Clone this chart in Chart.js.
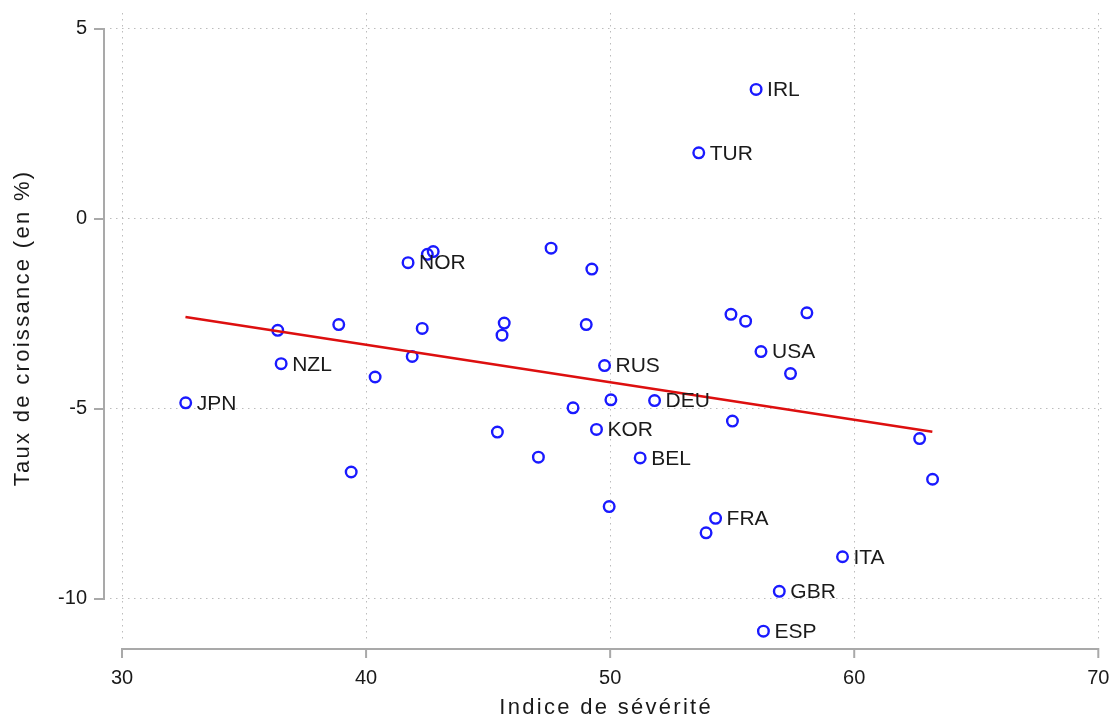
<!DOCTYPE html>
<html>
<head>
<meta charset="utf-8">
<script src="https://cdn.jsdelivr.net/npm/chart.js@4.4.1/dist/chart.umd.min.js"></script>
<style>
html,body{margin:0;padding:0;background:#ffffff;overflow:hidden;}
#wrap{width:1110px;height:722px;}
#c{display:block;}
</style>
</head>
<body>
<div id="wrap"><canvas id="c" width="1110" height="722"></canvas></div>
<script>
// ---- data ----
const countries = ['JPN','NZL','','','','','NOR','','','','','','','','','','','','','KOR','RUS','','','BEL','DEU','TUR','','FRA','','','','IRL','USA','ESP','GBR','','','ITA','',''];
const severity  = [32.61,36.52,36.38,38.88,39.39,40.37,41.72,41.89,42.30,42.51,42.75,45.38,45.57,45.66,47.06,47.58,48.48,49.02,49.25,49.44,49.77,49.96,50.03,51.23,51.82,53.63,53.93,54.32,54.95,55.01,55.55,55.98,56.18,56.28,56.93,57.39,58.06,59.52,62.68,63.21];
const growth    = [-4.84,-3.81,-2.93,-2.78,-6.66,-4.16,-1.15,-3.62,-2.88,-0.93,-0.86,-5.61,-3.06,-2.74,-6.27,-0.77,-4.97,-2.78,-1.32,-5.54,-3.86,-7.57,-4.76,-6.29,-4.78,1.74,-8.26,-7.88,-2.51,-5.32,-2.69,3.41,-3.49,-10.85,-9.80,-4.07,-2.47,-8.89,-5.78,-6.85];
const fitX = [32.6, 63.2];
const fitY = [-2.58, -5.60];
const xTicks = [30, 40, 50, 60, 70];
const yTicks = [5, 0, -5, -10];
const xTitle = 'Indice de sévérité';
const yTitle = 'Taux de croissance (en %)';

const FONT = "'Liberation Sans', Arial, Helvetica, sans-serif";
const TEXT = '#1a1a1a';

const pointsData = severity.map((v, i) => ({x: v, y: growth[i]}));
const fitData = fitX.map((v, i) => ({x: v, y: fitY[i]}));

// Stata-style detached axis lines spanning only the tick range
const axisPlugin = {
  id: 'stataAxes',
  beforeDatasetsDraw(chart) {
    const {ctx, chartArea, scales} = chart;
    const xs = scales.x, ys = scales.y;
    ctx.save();
    ctx.strokeStyle = '#a9a9a9';
    ctx.lineWidth = 2;
    ctx.lineCap = 'butt';
    const ax = chartArea.left - 6;
    const yTop = ys.getPixelForValue(yTicks[0]);
    const yBot = ys.getPixelForValue(yTicks[yTicks.length - 1]);
    ctx.beginPath();
    ctx.moveTo(ax, yTop - 1);
    ctx.lineTo(ax, yBot + 1);
    yTicks.forEach(v => {
      const p = ys.getPixelForValue(v);
      ctx.moveTo(ax + 1, p);
      ctx.lineTo(ax - 10, p);
    });
    const ay = chartArea.bottom + 6;
    const xL = xs.getPixelForValue(xTicks[0]);
    const xR = xs.getPixelForValue(xTicks[xTicks.length - 1]);
    ctx.moveTo(xL - 1, ay);
    ctx.lineTo(xR + 1, ay);
    xTicks.forEach(v => {
      const p = xs.getPixelForValue(v);
      ctx.moveTo(p, ay - 1);
      ctx.lineTo(p, ay + 9);
    });
    ctx.stroke();
    ctx.restore();
  }
};

// country code labels next to markers
const labelPlugin = {
  id: 'pointLabels',
  afterDatasetsDraw(chart) {
    const {ctx} = chart;
    const meta = chart.getDatasetMeta(0);
    ctx.save();
    ctx.font = '21px ' + FONT;
    ctx.fillStyle = TEXT;
    ctx.textAlign = 'left';
    ctx.textBaseline = 'middle';
    meta.data.forEach((el, i) => {
      if (countries[i]) ctx.fillText(countries[i], el.x + 11, el.y + 1);
    });
    ctx.restore();
  }
};

// wider tracking on the axis titles
const titleSpacingPlugin = {
  id: 'titleSpacing',
  afterLayout(chart) {
    Object.values(chart.scales).forEach(s => {
      if (s._spacedTitle) return;
      const orig = s.drawTitle;
      s.drawTitle = function () {
        const ctx = this.ctx;
        ctx.save();
        try { ctx.letterSpacing = '2.3px'; } catch (e) {}
        orig.call(this);
        ctx.restore();
      };
      s._spacedTitle = true;
    });
  }
};

function noPad(s) {
  s.paddingLeft = 0; s.paddingRight = 0; s.paddingTop = 0; s.paddingBottom = 0;
}

new Chart(document.getElementById('c'), {
  type: 'scatter',
  data: {
    datasets: [
      {
        type: 'scatter',
        data: pointsData,
        order: 1,
        pointStyle: 'circle',
        pointRadius: 5.3,
        pointHoverRadius: 5.3,
        pointBorderWidth: 2.4,
        borderColor: '#1a1aff',
        backgroundColor: 'rgba(255,255,255,0)'
      },
      {
        type: 'line',
        data: fitData,
        order: 0,
        borderColor: '#dd0f0f',
        borderWidth: 2.5,
        pointRadius: 0,
        fill: false,
        tension: 0
      }
    ]
  },
  options: {
    responsive: false,
    animation: false,
    devicePixelRatio: 1,
    layout: {padding: {top: 13, right: 0, bottom: 0, left: 0}},
    plugins: {legend: {display: false}, tooltip: {enabled: false}},
    scales: {
      x: {
        type: 'linear',
        min: 29.508,
        max: 70.164,
        afterBuildTicks: s => { s.ticks = xTicks.map(v => ({value: v})); },
        afterFit: s => { s.height = 79; noPad(s); },
        grid: {color: '#bcbcbc', lineWidth: 1, drawTicks: false, tickLength: 0},
        border: {display: false, dash: [1.5, 4.5]},
        ticks: {font: {family: FONT, size: 20}, color: TEXT, padding: 23, maxRotation: 0, autoSkip: false},
        title: {display: true, text: xTitle, font: {family: FONT, size: 22}, color: TEXT, padding: {top: 0, bottom: 1}}
      },
      y: {
        type: 'linear',
        min: -11.16,
        max: 5.42,
        afterBuildTicks: s => { s.ticks = yTicks.map(v => ({value: v})); },
        afterFit: s => { s.width = 110; noPad(s); },
        grid: {color: '#bcbcbc', lineWidth: 1, drawTicks: false, tickLength: 0},
        border: {display: false, dash: [1.5, 4.5]},
        ticks: {font: {family: FONT, size: 20}, color: TEXT, padding: 23, autoSkip: false},
        title: {display: true, text: yTitle, font: {family: FONT, size: 22}, color: TEXT, padding: {top: 10, bottom: 0}}
      }
    }
  },
  plugins: [axisPlugin, labelPlugin, titleSpacingPlugin]
});
</script>
</body>
</html>
